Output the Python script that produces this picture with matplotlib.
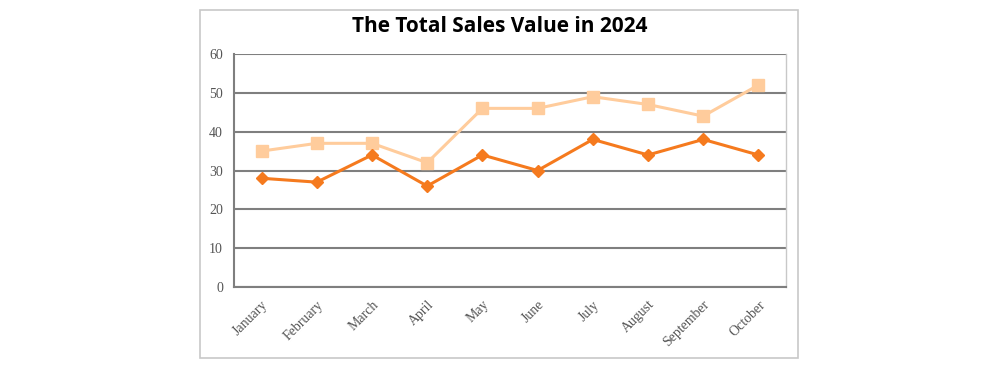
import matplotlib.pyplot as plt
from matplotlib.patches import Rectangle

months = ["January", "February", "March", "April", "May", "June",
          "July", "August", "September", "October"]
series_light = [35, 37, 37, 32, 46, 46, 49, 47, 44, 52]
series_dark = [28, 27, 34, 26, 34, 30, 38, 34, 38, 34]
y_ticks = [0, 10, 20, 30, 40, 50, 60]

W, H = 1000, 371
fig = plt.figure(figsize=(W / 100, H / 100), dpi=100)

# outer chart frame
fig.patches.append(Rectangle((200 / W, 1 - 358 / H), 598 / W, 348 / H,
                             transform=fig.transFigure, fill=False,
                             edgecolor="#c8c8c8", linewidth=1.2))

ax = fig.add_axes([234 / W, 1 - 287 / H, (786 - 234) / W, (287 - 54) / H])
x = list(range(len(months)))

ax.plot(x, series_light, color="#ffcc9c", linewidth=2.2, marker="s",
        markersize=8, zorder=3)
ax.plot(x, series_dark, color="#f57a1e", linewidth=2.2, marker="D",
        markersize=6, zorder=4)

ax.set_xlim(-0.5, len(months) - 0.5)
ax.set_ylim(0, 60)
ax.set_yticks(y_ticks)
ax.yaxis.grid(True, color="#7f7f7f", linewidth=1.5)
ax.set_axisbelow(True)

ax.set_xticks(x)
ax.set_xticklabels(months, rotation=45, ha="right", rotation_mode="anchor",
                   family="Liberation Serif", fontsize=10, color="#555555")
for lbl in ax.get_yticklabels():
    lbl.set_family("Liberation Serif")
    lbl.set_fontsize(10)
    lbl.set_color("#555555")
ax.tick_params(length=0, pad=8)

ax.spines["left"].set_color("#7f7f7f")
ax.spines["left"].set_linewidth(1.5)
ax.spines["bottom"].set_color("#7f7f7f")
ax.spines["bottom"].set_linewidth(1.5)
ax.spines["top"].set_visible(False)
ax.spines["right"].set_color("#c8c8c8")
ax.spines["right"].set_linewidth(1)

fig.text(0.5, 1 - 26 / H, "The Total Sales Value in 2024", ha="center",
         va="center", fontsize=15, fontweight="bold", family="Open Sans")

fig.savefig("out.png", dpi=100)
